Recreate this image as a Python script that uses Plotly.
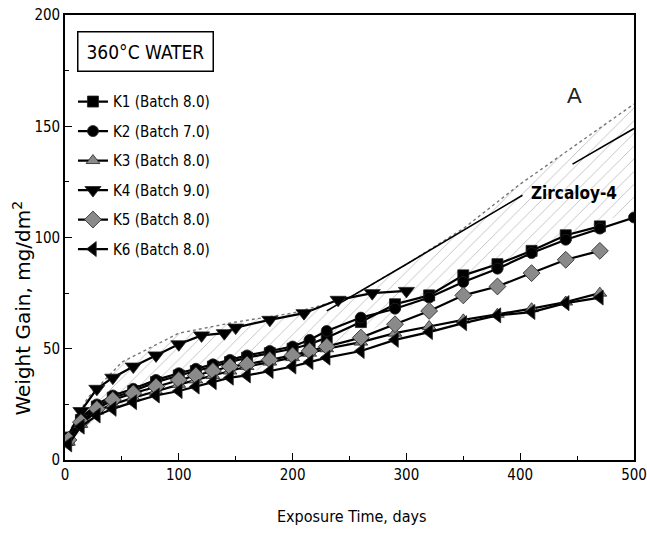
import plotly.graph_objects as go

# ---------------- data ----------------
days = [3, 14, 28, 42, 60, 80, 100, 115, 130, 145, 160, 180, 200, 215, 230, 260, 290, 320, 350, 380, 410, 440, 470]
k1 = [9, 18, 24, 28, 31, 35, 38, 40, 42, 44, 46, 48, 50, 52, 55, 62, 70, 74, 83, 88, 94, 101, 105]
k2_days = days + [500]
k2 = [10, 19, 25, 29, 32, 36, 39, 41, 43, 45, 47, 49, 51, 54, 58, 64, 68, 73, 80, 86, 93, 99, 104, 109]
k3 = [8, 16, 22, 25, 28, 31, 34, 36, 38, 40, 42, 44, 46, 48, 50, 53, 57, 60, 63, 65.5, 68, 71, 75]
k4_days = [3, 14, 28, 42, 60, 80, 100, 120, 140, 150, 180, 210, 240, 270, 300]
k4 = [11, 22, 32, 37, 42, 47, 52, 56, 57, 59.5, 63, 66, 72, 75, 76]
k5 = [9, 17, 23, 27, 30, 33, 36, 38, 40, 42, 43, 45, 47, 49, 51, 55, 61, 67, 74, 78, 84, 90, 94]
k6 = [7, 15, 20, 23, 26, 29, 31, 33, 35, 37, 38, 40, 42, 44, 46, 49, 54, 57.5, 61.5, 65, 66.5, 70.5, 73]

# Zircaloy-4 reference line (gap where the label sits)
zirc_x = [230, 300, 402, None, 446, 500]
zirc_y = [67, 88, 119, None, 133, 149]

# Scatter band "A"
band_x = [3, 20, 50, 100, 150, 200, 250, 300, 350, 400, 450, 500]
band_lo = [8, 15, 25, 33, 38, 44, 52, 68, 80, 92, 103, 112]
band_hi = [12, 28, 44, 57, 62, 66, 73, 88, 104, 124, 142, 160]

names = ["K1 (Batch 8.0)", "K2 (Batch 7.0)", "K3 (Batch 8.0)",
         "K4 (Batch 9.0)", "K5 (Batch 8.0)", "K6 (Batch 8.0)"]

NARROW = "Liberation Sans Narrow, Arial Narrow, DejaVu Sans Condensed, sans-serif"

fig = go.Figure()

# band
fig.add_trace(go.Scatter(x=band_x, y=band_lo, mode="lines", line=dict(width=0),
                         showlegend=False, hoverinfo="skip"))
fig.add_trace(go.Scatter(x=band_x, y=band_hi, mode="lines", fill="tonexty",
                         fillcolor="rgba(0,0,0,0)",
                         fillpattern=dict(shape="/", fgcolor="#808080", bgcolor="rgba(255,255,255,0)",
                                          size=9, solidity=0.1),
                         line=dict(color="#777777", width=1.4, dash="dot"),
                         showlegend=False, hoverinfo="skip"))

fig.add_trace(go.Scatter(x=zirc_x, y=zirc_y, mode="lines", line=dict(color="black", width=1.6),
                         showlegend=False, connectgaps=False))

series = [
    (days, k1, "square", "black", 11),
    (k2_days, k2, "circle", "black", 11),
    (days, k3, "triangle-up", "#8a8a8a", 12),
    (k4_days, k4, "triangle-down", "black", 14),
    (days, k5, "diamond", "#8a8a8a", 13),
    (days, k6, "triangle-left", "black", 13),
]
for i, (xs, ys, sym, col, sz) in enumerate(series):
    fig.add_trace(go.Scatter(
        x=xs, y=ys, name=names[i], mode="lines+markers",
        line=dict(color="black", width=2.2),
        marker=dict(symbol=sym, size=sz, color=col, line=dict(color="#222222", width=0.8)),
        legendgroup=f"g{i}",
    ))

fig.add_annotation(x=0.142, y=0.918, xref="paper", yref="paper", text="360°C WATER",
                   xanchor="center", yanchor="middle",
                   showarrow=False, font=dict(family=NARROW, size=19, color="black"),
                   bordercolor="black", borderwidth=1.5, borderpad=8, bgcolor="white")
fig.add_annotation(x=448, y=164, text="A", showarrow=False, xanchor="center", yanchor="middle",
                   font=dict(family="Liberation Sans, Arial, sans-serif", size=22, color="#222"))
fig.add_annotation(x=447, y=120, text="<b>Zircaloy-4</b>", showarrow=False,
                   xanchor="center", yanchor="middle",
                   font=dict(family=NARROW, size=17, color="black"))
fig.add_annotation(x=-0.076, y=0.342, xref="paper", yref="paper", text="Weight Gain, mg/dm<sup>2</sup>",
                   textangle=-90, showarrow=False, xanchor="center", yanchor="middle",
                   font=dict(family="DejaVu Sans, sans-serif", size=20, color="black"))
fig.add_annotation(x=0.503, y=-0.128, xref="paper", yref="paper", text="Exposure Time, days",
                   showarrow=False, xanchor="center", yanchor="middle",
                   font=dict(family=NARROW, size=16, color="black"))

axis_common = dict(showline=True, linecolor="black", linewidth=1.6, mirror=True,
                   ticks="inside", ticklen=7, tickwidth=1.4, tickcolor="black",
                   showgrid=False, zeroline=False, automargin=False,
                   tickfont=dict(family=NARROW, size=15, color="black"))
fig.update_xaxes(range=[0, 500], dtick=100, tick0=0,
                 minor=dict(ticks="inside", ticklen=4, dtick=50, tickcolor="black", showgrid=False),
                 **axis_common)
fig.update_yaxes(range=[0, 200], dtick=50, tick0=0,
                 minor=dict(ticks="inside", ticklen=4, dtick=25, tickcolor="black", showgrid=False),
                 **axis_common)

fig.update_layout(
    width=647, height=539,
    margin=dict(l=65, r=13, t=15, b=79, autoexpand=False),
    paper_bgcolor="white", plot_bgcolor="white",
    legend=dict(x=0.014, y=0.842, xanchor="left", yanchor="top",
                bgcolor="rgba(0,0,0,0)", tracegroupgap=7,
                font=dict(family=NARROW, size=15, color="black")),
)

fig.write_html("out.html")
